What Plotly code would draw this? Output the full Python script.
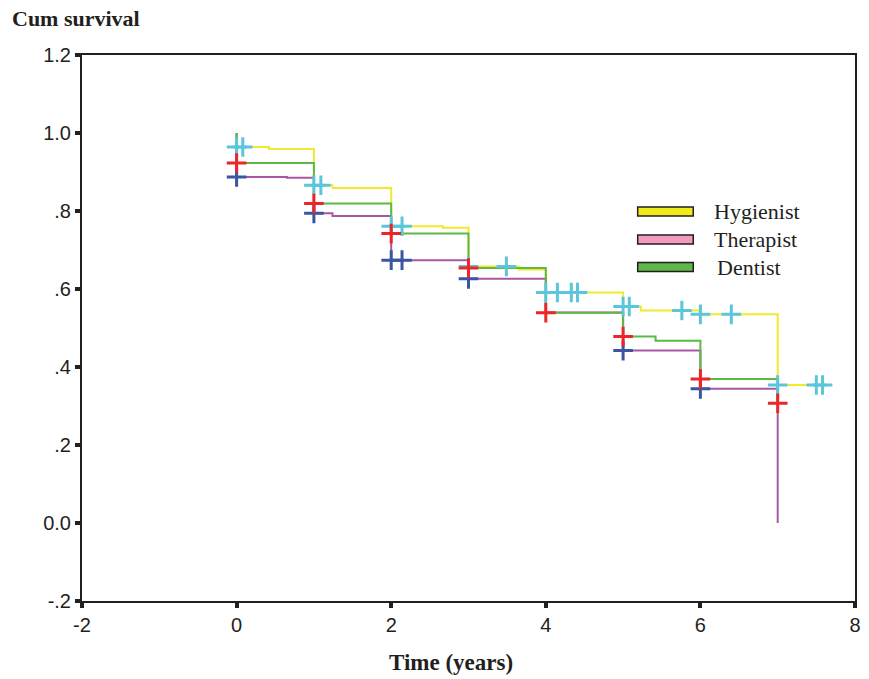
import plotly.graph_objects as go

# ---- data ----
hyg_t = [0, 0, 0.42, 1, 1.24, 2, 2.67, 3, 3.65, 4, 5, 5.23, 6.0, 7, 7.58]
hyg_s = [1.0, 0.964, 0.959, 0.866, 0.859, 0.761, 0.757, 0.658, 0.650, 0.591, 0.555, 0.545, 0.535, 0.354, 0.354]

ther_t = [0, 0, 0.65, 1, 1.24, 2, 3, 4, 5, 6, 7]
ther_s = [1.0, 0.887, 0.885, 0.794, 0.787, 0.674, 0.626, 0.540, 0.442, 0.344, 0.0]

dent_t = [0, 0, 1, 2, 3, 4, 5, 5.42, 6, 7]
dent_s = [1.0, 0.923, 0.819, 0.742, 0.654, 0.539, 0.478, 0.467, 0.369, 0.307]

hyg_cens_t = [0, 0.08, 1, 1.09, 2, 2.14, 3, 3.49, 4, 4.15, 4.33, 4.41, 5, 5.08, 5.76, 6.0, 6.40, 7, 7.5, 7.58]
hyg_cens_s = [0.964, 0.964, 0.866, 0.866, 0.761, 0.761, 0.658, 0.658, 0.591, 0.591, 0.591, 0.591,
              0.555, 0.555, 0.545, 0.535, 0.535, 0.354, 0.354, 0.354]

ther_cens_t = [0, 1, 2, 2.14, 3, 5, 6]
ther_cens_s = [0.887, 0.794, 0.674, 0.674, 0.626, 0.442, 0.344]

dent_cens_t = [0, 1, 2, 3, 4, 5, 6, 7]
dent_cens_s = [0.923, 0.819, 0.742, 0.654, 0.539, 0.478, 0.369, 0.307]

x_ticks = [-2, 0, 2, 4, 6, 8]
x_tick_labels = ["-2", "0", "2", "4", "6", "8"]
y_ticks = [-0.2, 0.0, 0.2, 0.4, 0.6, 0.8, 1.0, 1.2]
y_tick_labels = ["-.2", "0.0", ".2", ".4", ".6", ".8", "1.0", "1.2"]

groups = ["Hygienist", "Therapist", "Dentist"]
legend_colors = ["#f0ec1c", "#f49ac1", "#5cb848"]

# ---- figure ----
fig = go.Figure()

line_specs = [
    (hyg_t, hyg_s, "#f2e92c"),
    (ther_t, ther_s, "#a957a2"),
    (dent_t, dent_s, "#5cb946"),
]
for t, s, c in line_specs:
    fig.add_trace(go.Scatter(x=t, y=s, mode="lines", line=dict(color=c, width=2, shape="hv"),
                             showlegend=False, hoverinfo="skip"))

cens_specs = [
    (hyg_cens_t, hyg_cens_s, "#5bc6db"),
    (ther_cens_t, ther_cens_s, "#3a55a2"),
    (dent_cens_t, dent_cens_s, "#ec2529"),
]
for t, s, c in cens_specs:
    fig.add_trace(go.Scatter(x=t, y=s, mode="markers",
                             marker=dict(symbol="cross-thin", size=14, line=dict(color=c, width=3)),
                             showlegend=False, hoverinfo="skip"))

# custom legend (swatch boxes + labels), paper coordinates
L, R, T, B = 82, 861, 55, 601
W, H = R - L, B - T
def px(xp):
    return (xp - L) / W
def py(yp):
    return (B - yp) / H

shapes = []
annotations = []
sw_centers = [211.5, 239.5, 267.0]
text_x = [717, 717, 720]
for i, g in enumerate(groups):
    yc = sw_centers[i]
    shapes.append(dict(type="rect", xref="paper", yref="paper",
                       x0=px(642), x1=px(698), y0=py(yc + 4.5), y1=py(yc - 4.5),
                       fillcolor=legend_colors[i], line=dict(color="#231f20", width=1.5)))
    annotations.append(dict(text=g, xref="paper", yref="paper", x=px(text_x[i]), y=py(yc),
                            xanchor="left", yanchor="middle", showarrow=False,
                            font=dict(family="Liberation Serif", size=22, color="#231f20")))

annotations.append(dict(text="<b>Cum survival</b>", xref="paper", yref="paper",
                        x=px(9), y=py(18), xanchor="left", yanchor="middle", showarrow=False,
                        font=dict(family="Liberation Serif", size=22, color="#231f20")))
annotations.append(dict(text="<b>Time (years)</b>", xref="paper", yref="paper",
                        x=px(454), y=py(662), xanchor="center", yanchor="middle", showarrow=False,
                        font=dict(family="Liberation Serif", size=23, color="#231f20")))

fig.update_layout(
    width=869, height=679,
    margin=dict(l=L, r=869 - R, t=T, b=679 - B),
    paper_bgcolor="white", plot_bgcolor="white",
    shapes=shapes, annotations=annotations,
    showlegend=False,
)
fig.update_xaxes(range=[-2, 8], tickvals=x_ticks, ticktext=x_tick_labels, showgrid=False, zeroline=False,
                 showline=True, mirror=True, linecolor="#231f20", linewidth=2,
                 ticks="outside", ticklen=5, tickwidth=4, tickcolor="#231f20",
                 tickfont=dict(family="Liberation Sans", size=20, color="#231f20"))
fig.update_yaxes(range=[-0.2, 1.2], tickvals=y_ticks, ticktext=y_tick_labels, showgrid=False,
                 zeroline=False, showline=True, mirror=True, linecolor="#231f20", linewidth=2,
                 ticks="outside", ticklen=5, tickwidth=4, tickcolor="#231f20",
                 tickfont=dict(family="Liberation Sans", size=20, color="#231f20"))

fig.write_html("out.html", config={"displayModeBar": False},
               post_script="document.body.style.margin='0';document.body.style.padding='0';")
